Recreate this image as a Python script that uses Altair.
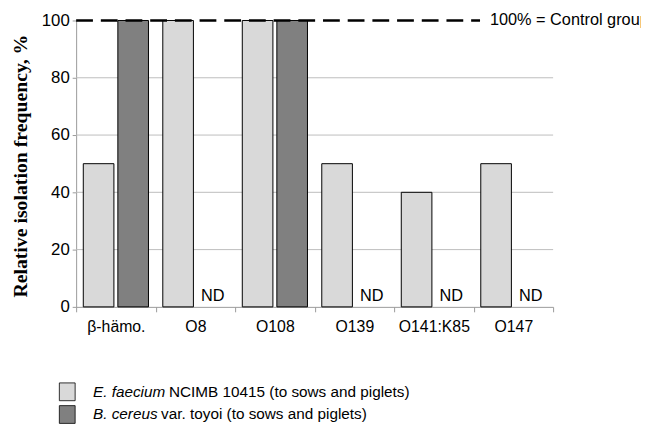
import altair as alt
import pandas as pd

groups = ["β-hämo.", "O8", "O108", "O139", "O141:K85", "O147"]
series = ["E. faecium", "B. cereus"]
e_faecium = [50, 100, 100, 50, 40, 50]
b_cereus = [100, None, 100, None, None, None]
grid_vals = [20, 40, 60, 80]
legend_italic = ["E. faecium", "B. cereus"]
legend_rest = ["NCIMB 10415 (to sows and piglets)", "var. toyoi (to sows and piglets)"]
colors = ["#d9d9d9", "#808080"]

rows = []
for g, a, b in zip(groups, e_faecium, b_cereus):
    rows.append({"group": g, "series": series[0], "value": a})
    rows.append({"group": g, "series": series[1], "value": b})
df = pd.DataFrame(rows)
bars_df = df.dropna()
nd_df = df[df["value"].isna()].assign(label="ND", zero=0)

W, H = 483, 290

xenc = alt.X("group:N", sort=groups, scale=alt.Scale(paddingInner=0, paddingOuter=0),
             axis=alt.Axis(title=None, labelAngle=0, tickBand="extent", tickSize=5,
                           labelPadding=7, labelFontSize=16, labelFont="Arial",
                           labelColor="#000", domainColor="#999", tickColor="#999"))
xoff = alt.XOffset("series:N", sort=series,
                   scale=alt.Scale(domain=series, paddingInner=0.114, paddingOuter=0.207))
yscale = alt.Scale(domain=[0, 100], nice=False)

grid = alt.Chart(pd.DataFrame({"v": grid_vals})).mark_rule(color="#bdbdbd", strokeWidth=1).encode(
    y=alt.Y("v:Q", scale=yscale), x=alt.value(0), x2=alt.value(W))

bars = alt.Chart(bars_df).mark_bar(stroke="#000", strokeWidth=1).encode(
    x=xenc, xOffset=xoff,
    y=alt.Y("value:Q", scale=yscale,
            axis=alt.Axis(values=list(range(0, 101, 10)), grid=False,
                          labelExpr="datum.value % 20 == 0 ? datum.label : ''",
                          tickSize=4, labelPadding=3, labelFontSize=17, labelFont="Arial",
                          labelColor="#000", domainColor="#999", tickColor="#999",
                          title="Relative isolation frequency, %", titleFont="Liberation Serif",
                          titleFontSize=20, titleFontWeight="bold", titleColor="#000",
                          titleX=-56, titleY=H / 2 + 2, titleAngle=-90, titleBaseline="middle",
                          titleAlign="center")),
    color=alt.Color("series:N", sort=series, scale=alt.Scale(domain=series, range=colors), legend=None),
)

nd = alt.Chart(nd_df).mark_text(font="Arial", fontSize=16.5, baseline="bottom", dy=-3, color="#000").encode(
    x=alt.X("group:N", sort=groups), xOffset=xoff,
    y=alt.Y("zero:Q", scale=yscale),
    text="label:N")

ctrl = alt.Chart(pd.DataFrame({"v": [100], "t": ["100% = Control group"]}))
dash = ctrl.mark_rule(color="#000", strokeWidth=2.5, strokeDash=[17, 8]).encode(
    y=alt.Y("v:Q", scale=yscale), x=alt.value(0), x2=alt.value(409))
ctrl_text = ctrl.mark_text(font="Arial", fontSize=16.5, align="left", baseline="middle", color="#000").encode(
    y=alt.Y("v:Q", scale=yscale), x=alt.value(419), text="t:N")

legend_layers = []
rest_x = [94, 86]
for i in range(2):
    yy = 376 + 23 * i
    ld = pd.DataFrame({"it": [legend_italic[i]], "rest": [legend_rest[i]]})
    base = alt.Chart(ld)
    legend_layers.append(base.mark_rect(color=colors[i], stroke="#000", strokeWidth=0.8, opacity=1)
                         .encode(x=alt.value(-17), x2=alt.value(-1),
                                 y=alt.value(yy - 9), y2=alt.value(yy + 9)))
    legend_layers.append(base.mark_text(font="Arial", fontSize=15.5, fontStyle="italic", align="left",
                                        baseline="middle", color="#000")
                         .encode(x=alt.value(17), y=alt.value(yy), text="it:N"))
    legend_layers.append(base.mark_text(font="Arial", fontSize=15.5, align="left",
                                        baseline="middle", color="#000")
                         .encode(x=alt.value(rest_x[i]), y=alt.value(yy), text="rest:N"))

chart = alt.layer(grid, bars, nd, dash, ctrl_text, *legend_layers).properties(
    width=W, height=H,
    autosize=alt.AutoSizeParams(type="none"),
    padding={"left": 69, "top": 10, "right": 89, "bottom": 120},
    background="white",
).configure_view(stroke=None)

chart.save("out.html", embed_options={"renderer": "svg", "actions": False})
